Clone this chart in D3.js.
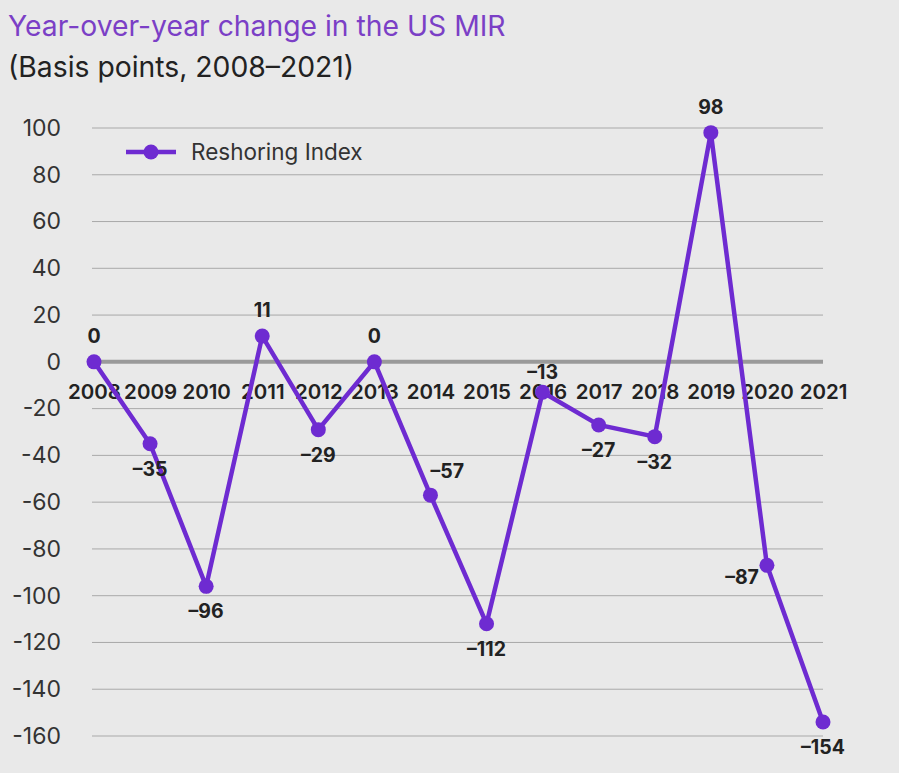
<!DOCTYPE html>
<html><head><meta charset="utf-8">
<script src="https://cdn.jsdelivr.net/npm/d3@7"></script>
<style>
html,body{margin:0;padding:0;background:#e9e9e9;}
svg{display:block;font-family:Inter,"Noto Sans",sans-serif;}
</style></head>
<body><svg id="chart" width="899" height="773"></svg>
<script>
const years = ["2008","2009","2010","2011","2012","2013","2014","2015","2016","2017","2018","2019","2020","2021"];
const values = [0,-35,-96,11,-29,0,-57,-112,-13,-27,-32,98,-87,-154];
const labelPos = ["above","below","below","above","below","above","upright","below","abovelow","below","below","above","left","below"];
const yTicks = [100,80,60,40,20,0,-20,-40,-60,-80,-100,-120,-140,-160];
const seriesName = "Reshoring Index";
const purple = "#6e2bd1";

const svg = d3.select("#chart");
svg.append("rect").attr("width",899).attr("height",773).attr("fill","#e9e9e9");

const x = d3.scalePoint().domain(years).range([94,823]);
const y = d3.scaleLinear().domain([-160,100]).range([736,128]);

svg.append("text").attr("x",8).attr("y",36).attr("font-size",28.3).attr("fill","#7b3fc6").text("Year-over-year change in the US MIR");
svg.append("text").attr("x",8).attr("y",77).attr("font-size",28.3).attr("fill","#222").text("(Basis points, 2008–2021)");

// grid
const gridG = svg.append("g");
gridG.selectAll("line").data(yTicks.filter(d=>d!==0)).join("line")
  .attr("x1",92).attr("x2",823).attr("y1",d=>y(d)).attr("y2",d=>y(d))
  .attr("stroke","#a9a9a9").attr("stroke-width",1);

// y axis labels
const yAxis = d3.axisLeft(y).tickValues(yTicks).tickSize(0).tickPadding(0).tickFormat(d=>d<0?"-"+Math.abs(d):d);
const yg = svg.append("g").attr("transform","translate(61,0)").call(yAxis);
yg.select(".domain").remove();
yg.selectAll("text").attr("font-size",23).attr("fill","#333").attr("font-family","Inter,'Noto Sans',sans-serif");

// zero line
svg.append("line").attr("x1",92).attr("x2",823).attr("y1",y(0)).attr("y2",y(0)).attr("stroke","#9a9a9a").attr("stroke-width",4);

// x labels
const xAxis = d3.axisBottom(x).tickSize(0).tickPadding(0);
const xg = svg.append("g").attr("transform",`translate(0,${y(0)+30})`).call(xAxis);
xg.select(".domain").remove();
xg.selectAll("text").attr("font-size",20.5).attr("font-weight",600).attr("fill","#222").attr("dy","0.35em").attr("y",0).attr("font-family","Inter,'Noto Sans',sans-serif");

// line
const line = d3.line().x((d,i)=>x(years[i])).y(d=>y(d));
svg.append("path").datum(values).attr("d",line).attr("fill","none").attr("stroke",purple).attr("stroke-width",4.5).attr("stroke-linejoin","miter");
svg.selectAll("circle.pt").data(values).join("circle").attr("class","pt")
  .attr("cx",(d,i)=>x(years[i])).attr("cy",d=>y(d)).attr("r",7.5).attr("fill",purple);

// data labels
const fmt = d=>d<0?"–"+Math.abs(d):String(d);
svg.selectAll("text.dl").data(values).join("text").attr("class","dl")
  .attr("font-size",19.5).attr("font-weight",700).attr("fill","#222")
  .attr("text-anchor",(d,i)=>labelPos[i]==="left"?"end":(labelPos[i]==="upright"?"start":"middle"))
  .attr("x",(d,i)=>{const p=labelPos[i];const cx=x(years[i]);return p==="left"?cx-8:(p==="upright"?cx:cx);})
  .attr("y",(d,i)=>{const p=labelPos[i];const cy=y(d);
     if(p==="above")return cy-19;
     if(p==="abovelow")return cy-13;
     if(p==="below")return cy+32;
     if(p==="upright")return cy-17;
     return cy+19;})
  .text(fmt);

// legend
const lg = svg.append("g");
lg.append("line").attr("x1",126).attr("x2",176).attr("y1",152).attr("y2",152).attr("stroke",purple).attr("stroke-width",4.5);
lg.append("circle").attr("cx",151).attr("cy",152).attr("r",7.5).attr("fill",purple);
lg.append("text").attr("x",191).attr("y",160).attr("font-size",22.5).attr("fill","#333").text(seriesName);
</script></body></html>
